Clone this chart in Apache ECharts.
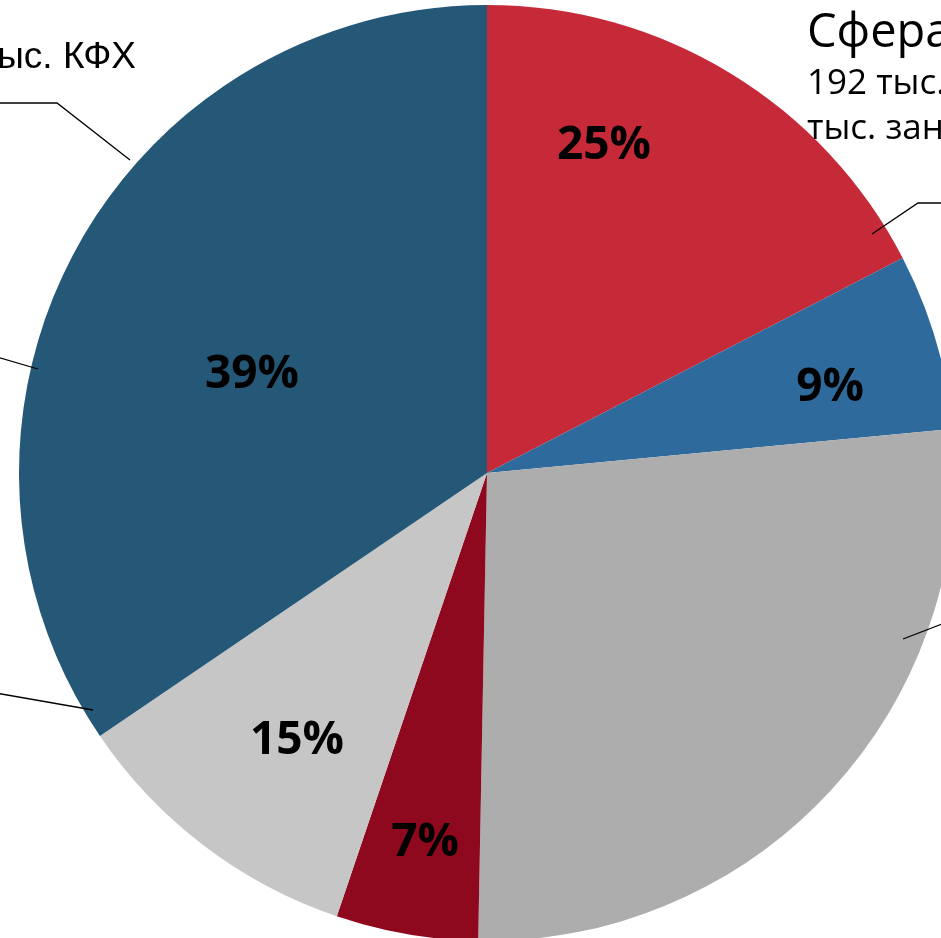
<!DOCTYPE html>
<html>
<head>
<meta charset="utf-8">
<title>Структура</title>
<script src="https://cdn.jsdelivr.net/npm/echarts@6/dist/echarts.min.js"></script>
<style>
  html, body { margin: 0; padding: 0; background: #fff; }
  #main { width: 941px; height: 938px; }
</style>
</head>
<body>
<div id="main"></div>
<script>
// sectors clockwise from 12 o'clock
var sectors = ['Сфера услуг', 'Сектор 2', 'Сектор 3', 'Сектор 4', 'Сектор 5', 'Сельское хозяйство'];
// slice size, % of the circle
var shares = [17.4, 6.1, 26.8, 4.9, 10.3, 34.5];
// labels printed inside the slices
var percentLabels = ['25%', '9%', '', '7%', '15%', '39%'];
// callout texts
var outerTexts = [
  '{t|Сфера услуг}\n{s|192 тыс.}\n{s|тыс. занятых}',
  '',
  ' ',
  ' ',
  ' ',
  '{k|тыс. КФХ}'
];
var colors = ['#C62938', '#2E6A9C', '#ADADAD', '#8E081E', '#C6C6C6', '#255777'];

var CX = 487, CY = 473, R = 468;

// label placement (layout only)
var innerAt = [[604, 146], [830, 388], null, [425, 843], [297, 741], [252, 375]];
var outerAt = [
  { x: 807, y: 5, align: 'left', verticalAlign: 'top' },
  null, null, null, null,
  { x: 136, y: 58, align: 'right', verticalAlign: 'middle' }
];
var leaderPts = [
  [[872, 234], [918, 203], [960, 203]],
  null,
  [[903, 639], [960, 617]],
  [[38, 369], [-10, 355]],
  [[93, 710], [-10, 692]],
  [[130, 160], [57, 103], [-10, 103]]
];

var chart = echarts.init(document.getElementById('main'), null, { renderer: 'canvas' });

var option = {
  backgroundColor: '#fff',
  animation: false,
  series: [
    {
      type: 'pie',
      center: [CX, CY],
      radius: R,
      startAngle: 90,
      clockwise: true,
      avoidLabelOverlap: false,
      silent: true,
      emphasis: { disabled: true },
      itemStyle: { borderWidth: 0 },
      label: {
        show: true,
        position: 'inside',
        formatter: function (p) { return percentLabels[p.dataIndex]; },
        fontFamily: 'Open Sans',
        fontWeight: 'bold',
        fontSize: 46,
        color: '#000'
      },
      labelLine: { show: false },
      labelLayout: function (p) {
        var a = innerAt[p.dataIndex];
        return a ? { x: a[0], y: a[1], align: 'center', verticalAlign: 'middle' } : {};
      },
      data: shares.map(function (v, i) {
        return { name: sectors[i], value: v, itemStyle: { color: colors[i] } };
      })
    },
    {
      type: 'pie',
      center: [CX, CY],
      radius: R,
      startAngle: 90,
      clockwise: true,
      avoidLabelOverlap: false,
      silent: true,
      z: 3,
      emphasis: { disabled: true },
      itemStyle: { color: 'rgba(0,0,0,0)', borderWidth: 0 },
      label: {
        show: true,
        position: 'outside',
        color: '#000',
        formatter: function (p) { return outerTexts[p.dataIndex] || ' '; },
        rich: {
          t: { fontFamily: 'Open Sans', fontSize: 47, lineHeight: 57, color: '#000' },
          s: { fontFamily: 'Open Sans', fontSize: 35, lineHeight: 45, color: '#000' },
          k: { fontFamily: 'Liberation Sans', fontSize: 37, lineHeight: 42, color: '#000' }
        }
      },
      labelLine: {
        show: true,
        length: 10,
        length2: 10,
        lineStyle: { color: '#000', width: 1.3 }
      },
      labelLayout: function (p) {
        var i = p.dataIndex;
        var o = {};
        if (outerAt[i]) {
          o.x = outerAt[i].x;
          o.y = outerAt[i].y;
          o.align = outerAt[i].align;
          o.verticalAlign = outerAt[i].verticalAlign;
        }
        if (leaderPts[i]) o.labelLinePoints = leaderPts[i];
        return o;
      },
      data: shares.map(function (v, i) {
        var d = { name: sectors[i], value: v };
        if (!outerTexts[i]) {
          d.label = { show: false };
          d.labelLine = { show: false };
        }
        return d;
      })
    }
  ]
};

chart.setOption(option);
</script>
</body>
</html>
